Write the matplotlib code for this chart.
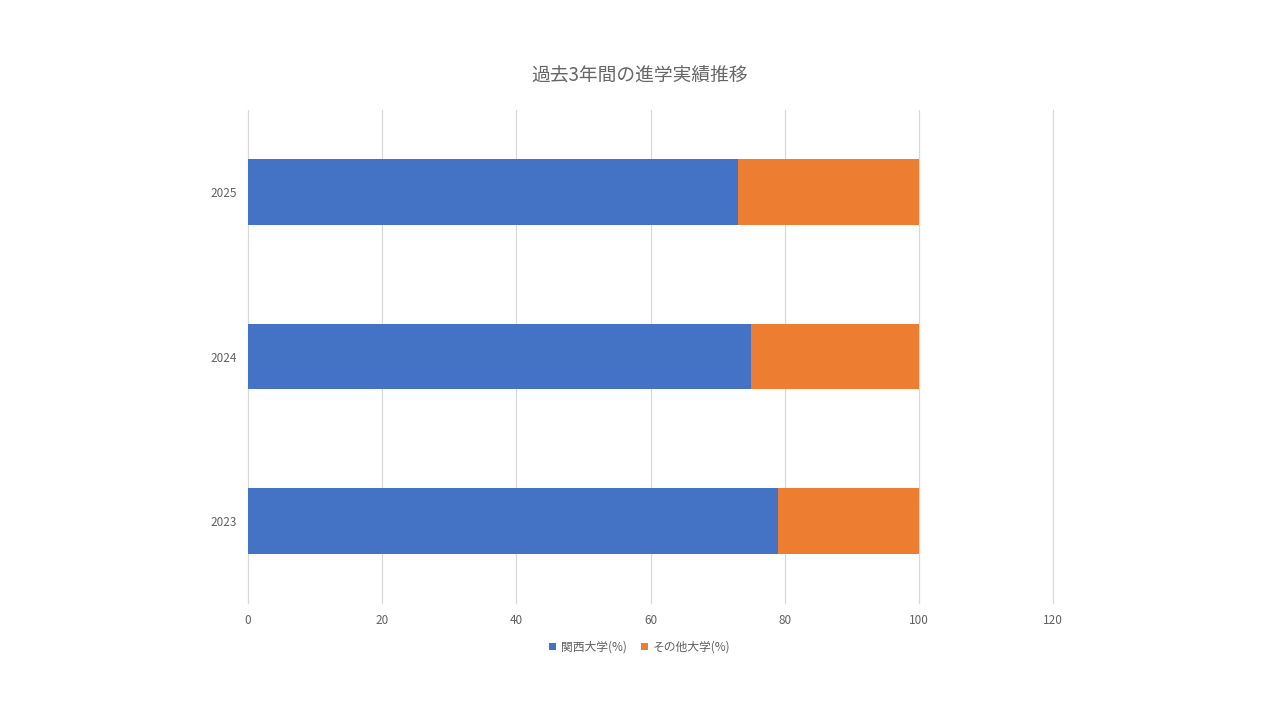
import matplotlib
matplotlib.use("Agg")
import matplotlib.pyplot as plt

plt.rcParams['font.family'] = ['Noto Sans CJK JP', 'DejaVu Sans']

years = ["2023", "2024", "2025"]
kansai = [79, 75, 73]
other = [21, 25, 27]
series_names = ["関西大学(%)", "その他大学(%)"]
title = "過去3年間の進学実績推移"

fig = plt.figure(figsize=(12.8, 7.2), dpi=100)
ax = fig.add_axes([248/1280, 1-603/720, (1053-248)/1280, (603-110)/720])

pos = list(range(len(years)))
ax.barh(pos, kansai, height=0.4, color="#4472C4", label=series_names[0], zorder=3)
ax.barh(pos, other, left=kansai, height=0.4, color="#ED7D31", label=series_names[1], zorder=3)

ax.set_xlim(0, 120)
ax.set_ylim(-0.5, 2.5)
ax.set_xticks(range(0, 121, 20))
ax.set_yticks(pos)
ax.set_yticklabels(years)
ax.grid(axis='x', color="#d9d9d9", linewidth=0.9, zorder=0)
for gl in ax.get_xgridlines():
    gl.set_clip_on(False)
for s in ax.spines.values():
    s.set_visible(False)
ax.tick_params(length=0, colors="#606060", labelsize=8.5, pad=8)
ax.tick_params(axis='y', pad=8)

fig.text(0.5, 1-76/720, title, ha='center', va='center', fontsize=13.5, color="#666666")

leg = fig.legend(loc='center', bbox_to_anchor=(0.5, 1-647/720), ncol=2, frameon=False,
                 fontsize=8.5, handlelength=0.6, handleheight=0.6, handletextpad=0.4,
                 columnspacing=1.2, labelcolor="#606060")

fig.savefig("out.png", dpi=100)
